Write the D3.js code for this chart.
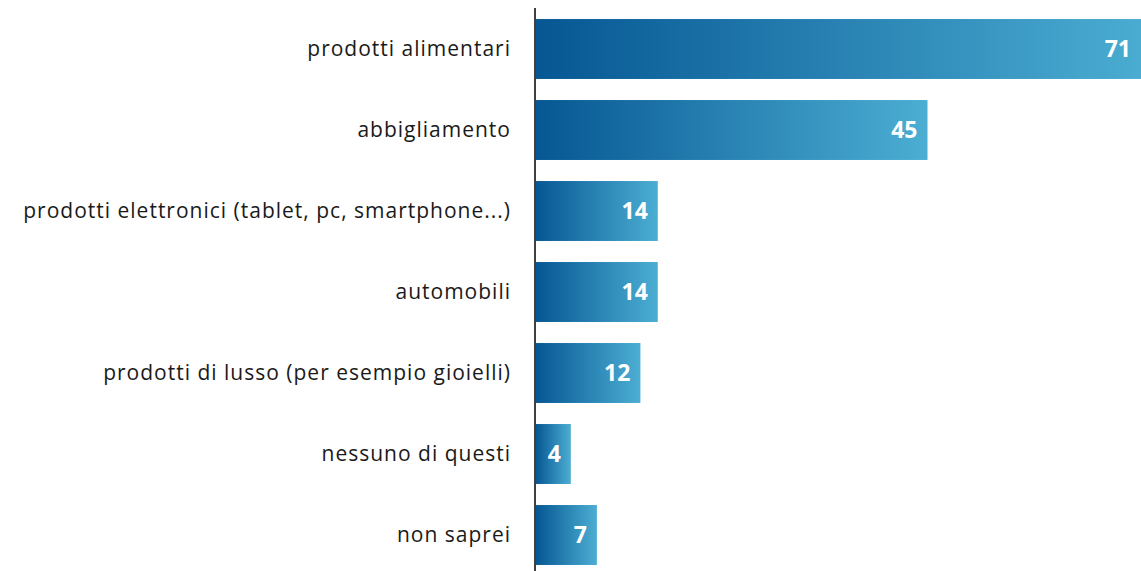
<!DOCTYPE html>
<html lang="it">
<head>
<meta charset="UTF-8">
<script src="https://cdn.jsdelivr.net/npm/d3@7"></script>
<style>
  body { margin: 0; background: #fff; }
  svg { display: block; font-family: "Open Sans", sans-serif; }
</style>
</head>
<body>
<div id="chart"></div>
<script>
// categories and values
const categories = [
    "prodotti alimentari",
    "abbigliamento",
    "prodotti elettronici (tablet, pc, smartphone...)",
    "automobili",
    "prodotti di lusso (per esempio gioielli)",
    "nessuno di questi",
    "non saprei"
];
const values = [71, 45, 14, 14, 12, 4, 7];

const width = 1141, height = 571;
const x0 = 536;

const svg = d3.select("#chart").append("svg")
    .attr("width", width)
    .attr("height", height);

const x = d3.scaleLinear().domain([0, 70]).range([x0, x0 + 70 * 8.7]);
const y = d3.scaleBand()
    .domain(categories)
    .range([8.5, 575.5])
    .paddingInner(0.26)
    .paddingOuter(0.13);

// gradient runs along each bar, dark to light
const grad = svg.append("defs").append("linearGradient")
    .attr("id", "barGrad")
    .attr("x1", "0%").attr("x2", "100%")
    .attr("y1", "0%").attr("y2", "0%");
grad.append("stop").attr("offset", "0%").attr("stop-color", "#065793");
grad.append("stop").attr("offset", "100%").attr("stop-color", "#4caed3");

const data = categories.map((c, i) => ({cat: c, val: values[i]}));

svg.selectAll("rect.bar")
    .data(data)
    .enter()
    .append("rect")
    .attr("class", "bar")
    .attr("x", x(0))
    .attr("y", d => y(d.cat))
    .attr("width", d => x(d.val) - x(0))
    .attr("height", y.bandwidth())
    .attr("fill", "url(#barGrad)");

// value labels inside the bar end
svg.selectAll("text.val")
    .data(data)
    .enter()
    .append("text")
    .attr("class", "val")
    .attr("x", d => Math.min(x(d.val), width) - 10)
    .attr("y", d => y(d.cat) + y.bandwidth() / 2)
    .attr("dy", "0.36em")
    .attr("text-anchor", "end")
    .attr("fill", "#fff")
    .attr("font-weight", "bold")
    .attr("font-size", "23px")
    .text(d => d.val);

// category labels
svg.selectAll("text.cat")
    .data(data)
    .enter()
    .append("text")
    .attr("class", "cat")
    .attr("x", 511)
    .attr("y", d => y(d.cat) + y.bandwidth() / 2)
    .attr("dy", "0.33em")
    .attr("text-anchor", "end")
    .attr("fill", "#1a1a1a")
    .attr("font-size", "21px")
    .attr("letter-spacing", "1px")
    .text(d => d.cat);

// vertical axis line
svg.append("line")
    .attr("x1", 535).attr("x2", 535)
    .attr("y1", 8).attr("y2", height)
    .attr("stroke", "#404040")
    .attr("stroke-width", 2);
</script>
</body>
</html>
